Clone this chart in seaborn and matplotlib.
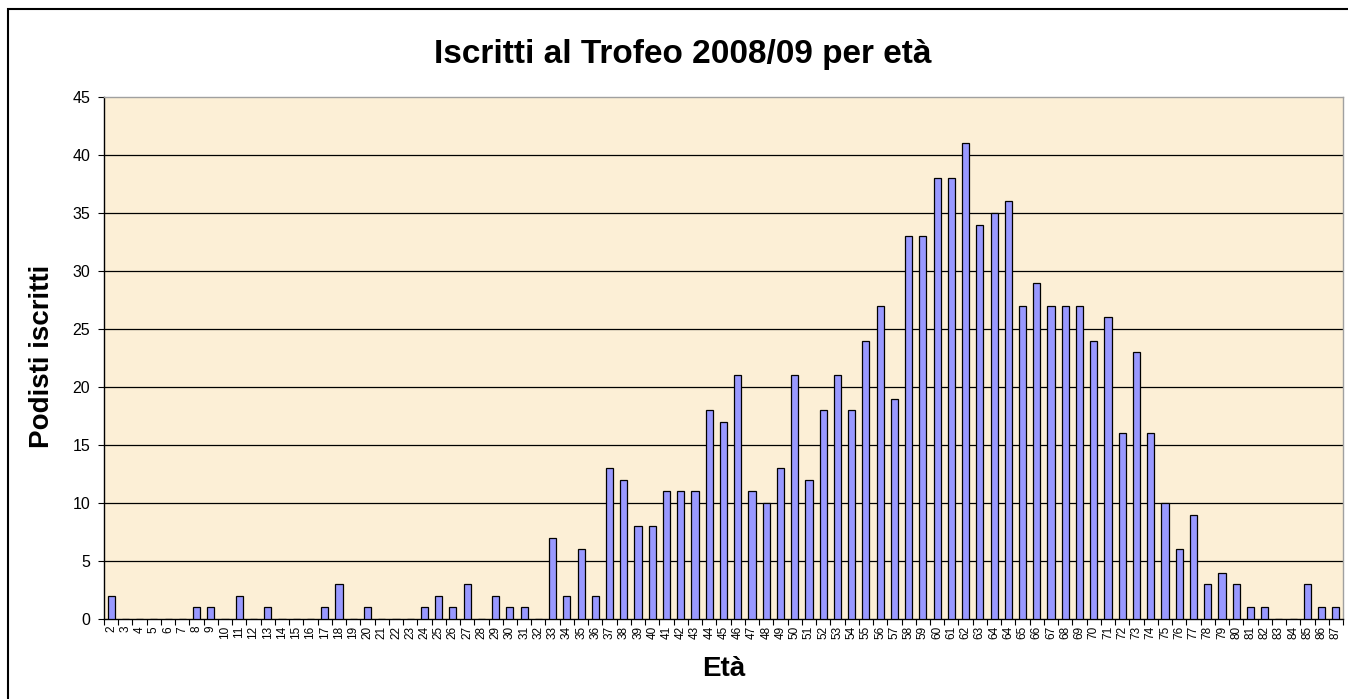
import matplotlib
matplotlib.use("Agg")
import matplotlib.pyplot as plt
import seaborn as sns
import pandas as pd
import numpy as np
from matplotlib.patches import Rectangle

# Data (note: the original labels contain "64" twice)
age_labels = ["2", "3", "4", "5", "6", "7", "8", "9", "10", "11", "12", "13", "14", "15", "16",
              "17", "18", "19", "20", "21", "22", "23", "24", "25", "26", "27", "28", "29", "30",
              "31", "32", "33", "34", "35", "36", "37", "38", "39", "40", "41", "42", "43", "44",
              "45", "46", "47", "48", "49", "50", "51", "52", "53", "54", "55", "56", "57", "58",
              "59", "60", "61", "62", "63", "64", "64", "65", "66", "67", "68", "69", "70", "71",
              "72", "73", "74", "75", "76", "77", "78", "79", "80", "81", "82", "83", "84", "85",
              "86", "87"]
iscritti = [2, 0, 0, 0, 0, 0, 1, 1, 0, 2, 0, 1, 0, 0, 0,
            1, 3, 0, 1, 0, 0, 0, 1, 2, 1, 3, 0, 2, 1,
            1, 0, 7, 2, 6, 2, 13, 12, 8, 8, 11, 11, 11, 18,
            17, 21, 11, 10, 13, 21, 12, 18, 21, 18, 24, 27, 19, 33,
            33, 38, 38, 41, 34, 35, 36, 27, 29, 27, 27, 27, 24, 26,
            16, 23, 16, 10, 6, 9, 3, 4, 3, 1, 1, 0, 0, 3,
            1, 1]
y_ticks = [0, 5, 10, 15, 20, 25, 30, 35, 40, 45]

title = "Iscritti al Trofeo 2008/09 per età"
x_title = "Età"
y_title = "Podisti iscritti"

df = pd.DataFrame({"pos": list(range(len(iscritti))), "val": iscritti})

sns.set_theme(style="white")
plt.rcParams["font.family"] = ["Liberation Sans", "DejaVu Sans"]
plt.rcParams["text.color"] = "black"
plt.rcParams["axes.labelcolor"] = "black"
plt.rcParams["xtick.color"] = "black"
plt.rcParams["ytick.color"] = "black"

W, H = 1348, 699
fig = plt.figure(figsize=(W / 100, H / 100), dpi=100)
fig.patch.set_facecolor("white")
L, R, T, B = 104, 1343, 97, 619
ax = fig.add_axes([L / W, 1 - B / H, (R - L) / W, (B - T) / H])
ax.set_facecolor("#FCEFD6")

sns.barplot(data=df, x="pos", y="val", order=list(range(len(iscritti))),
            color="#9999FF", saturation=1, width=0.5, edgecolor="black",
            linewidth=0.9, ax=ax, zorder=3)

n = len(iscritti)
ax.set_xlim(-0.5, n - 0.5)
ax.set_ylim(0, 45)
ax.set_yticks(y_ticks)
ax.set_yticklabels([str(v) for v in y_ticks], fontsize=11.5)
ax.set_xticks(range(n))
ax.set_xticklabels(age_labels, rotation=90, fontsize=8.5)
ax.set_xticks(np.arange(-0.5, n, 1.0), minor=True)
ax.tick_params(axis="x", which="major", length=0, pad=5)
ax.tick_params(axis="x", which="minor", length=4, width=0.8, color="black", direction="out", bottom=True)
ax.tick_params(axis="y", which="major", length=4, width=0.8, color="black", direction="out", left=True, pad=6)

for v in y_ticks[1:-1]:
    ax.axhline(v, color="black", lw=0.9, zorder=1)

for s in ["top", "right"]:
    ax.spines[s].set_color("#A0A0A0")
    ax.spines[s].set_linewidth(1.0)
for s in ["left", "bottom"]:
    ax.spines[s].set_color("black")
    ax.spines[s].set_linewidth(1.0)

ax.set_xlabel("")
ax.set_ylabel("")
fig.text((L + R) / 2 / W, 1 - 669 / H, x_title, ha="center", va="center",
         fontsize=20, fontweight="bold")
fig.text(42 / W, 1 - 356 / H, y_title, ha="center", va="center", rotation=90,
         fontsize=20, fontweight="bold")
fig.text(683 / W, 1 - 55 / H, title, ha="center", va="center",
         fontsize=24, fontweight="bold")

frame = Rectangle((8 / W, -0.05), 1.2, (H - 9) / H + 0.05, transform=fig.transFigure,
                  fill=False, edgecolor="black", linewidth=1.5)
fig.patches.append(frame)

fig.savefig("out.png", dpi=100)
